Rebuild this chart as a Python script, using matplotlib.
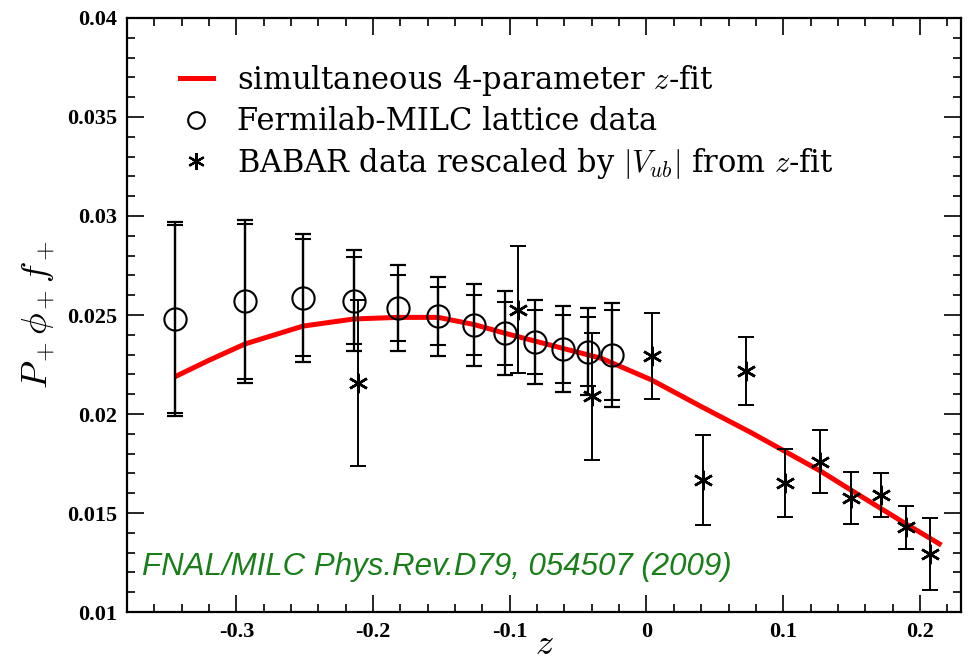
import matplotlib
matplotlib.use("Agg")
import matplotlib.pyplot as plt
from matplotlib.lines import Line2D
from matplotlib.ticker import MultipleLocator

plt.rcParams['mathtext.fontset'] = 'cm'
plt.rcParams['font.family'] = ['Liberation Serif', 'DejaVu Serif']

# Fermilab-MILC lattice points (z, value, inner error, outer error)
lat_z = [-0.345, -0.294, -0.251, -0.214, -0.1815, -0.1523, -0.1262, -0.1036, -0.0817, -0.0614, -0.0426, -0.0249]
lat_y = [0.02481, 0.02569, 0.02588, 0.02572, 0.02537, 0.02494, 0.02450, 0.02407, 0.02363, 0.02328, 0.02315, 0.02298]
lat_err_in = [0.00476, 0.0039, 0.00295, 0.00219, 0.00166, 0.00146, 0.0015, 0.0016, 0.00163, 0.00171, 0.00173, 0.00227]
lat_err_out = [0.0049, 0.00411, 0.00323, 0.00255, 0.00217, 0.002, 0.00208, 0.00212, 0.00213, 0.00219, 0.0022, 0.00264]

# BABAR data rescaled
bab_z = [-0.2111, -0.0938, -0.0402, 0.0037, 0.0414, 0.0731, 0.1011, 0.1272, 0.1499, 0.1713, 0.19, 0.2076]
bab_y = [0.02158, 0.02527, 0.0209, 0.02293, 0.01667, 0.02219, 0.01651, 0.01759, 0.01576, 0.01591, 0.01427, 0.01292]
bab_err = [0.0042, 0.0032, 0.0032, 0.00217, 0.00228, 0.00172, 0.00171, 0.0016, 0.00132, 0.00110, 0.0011, 0.00181]

# 4-parameter z-fit curve
fit_z = [-0.345, -0.3204, -0.2936, -0.2512, -0.214, -0.1815, -0.1523, -0.1262, -0.1036, -0.0614,
         -0.0329, 0.0037, 0.0402, 0.0768, 0.1011, 0.1272, 0.15, 0.19, 0.2157]
fit_y = [0.02188, 0.0227, 0.02354, 0.02444, 0.0248, 0.02488, 0.02488, 0.02452, 0.02408, 0.02332,
         0.02281, 0.02172, 0.02037, 0.01905, 0.01812, 0.01712, 0.01614, 0.01444, 0.01338]

fig = plt.figure(figsize=(9.69, 6.64), dpi=100)
ax = fig.add_axes([0.131, 0.0783, 0.8607, 0.8946])

ax.plot(fit_z, fit_y, color='red', lw=3.6, solid_capstyle='butt', solid_joinstyle='round', zorder=2)

ax.errorbar(lat_z, lat_y, yerr=lat_err_out, fmt='none', ecolor='black', elinewidth=1.6, capsize=6, capthick=1.6, zorder=3)
ax.errorbar(lat_z, lat_y, yerr=lat_err_in, fmt='o', color='black', mfc='none', mec='black', ms=16, mew=1.5,
            elinewidth=1.6, capsize=6, capthick=1.6, zorder=3)
ax.errorbar(bab_z, bab_y, yerr=bab_err, fmt='none', ecolor='black', elinewidth=1.4, capsize=6, capthick=1.4, zorder=4)
ax.plot(bab_z, bab_y, ls='none', marker=(6, 2, 0), ms=14, mew=1.8, color='black', zorder=5)

ax.set_xlim(-0.38, 0.23)
ax.set_ylim(0.01, 0.04)
ax.xaxis.set_minor_locator(MultipleLocator(0.02))
ax.yaxis.set_minor_locator(MultipleLocator(0.001))
ax.set_xticks([-0.3, -0.2, -0.1, 0, 0.1, 0.2])
ax.set_xticklabels(['-0.3', '-0.2', '-0.1', '0', '0.1', '0.2'])
ax.set_yticks([0.01, 0.015, 0.02, 0.025, 0.03, 0.035, 0.04])
ax.set_yticklabels(['0.01', '0.015', '0.02', '0.025', '0.03', '0.035', '0.04'])
ax.tick_params(which='both', direction='in', top=True, right=True, width=1.2)
ax.tick_params(which='major', length=12, labelsize=16, pad=7)
ax.tick_params(which='minor', length=6)
for lab in ax.get_xticklabels() + ax.get_yticklabels():
    lab.set_fontweight('bold')
for sp in ax.spines.values():
    sp.set_linewidth(1.6)

ax.set_ylabel(r'$P_+\phi_+ f_+$', fontsize=26, labelpad=8)
ax.set_xlabel(r'$z$', fontsize=26, labelpad=-9)

handles = [Line2D([], [], color='red', lw=3.6),
           Line2D([], [], ls='none', marker='o', mfc='none', mec='black', ms=12, mew=1.5),
           Line2D([], [], ls='none', marker=(6, 2, 0), ms=12, mew=1.6, color='black')]
labels = ['simultaneous 4-parameter $z$-fit', 'Fermilab-MILC lattice data',
          'BABAR data rescaled by $|V_{ub}|$ from $z$-fit']
ax.legend(handles, labels, loc='upper left', bbox_to_anchor=(0.0489, 0.945), frameon=False,
          prop={'family': 'DejaVu Serif', 'size': 22}, handlelength=1.08, handletextpad=0.78,
          labelspacing=0.28, borderpad=0.4, borderaxespad=0)

ax.text(0.018, 0.063, 'FNAL/MILC Phys.Rev.D79, 054507 (2009)', transform=ax.transAxes,
        family='Liberation Sans', style='italic', fontsize=22.5, color='#1a7f1a')

fig.savefig('out.png', dpi=100)
